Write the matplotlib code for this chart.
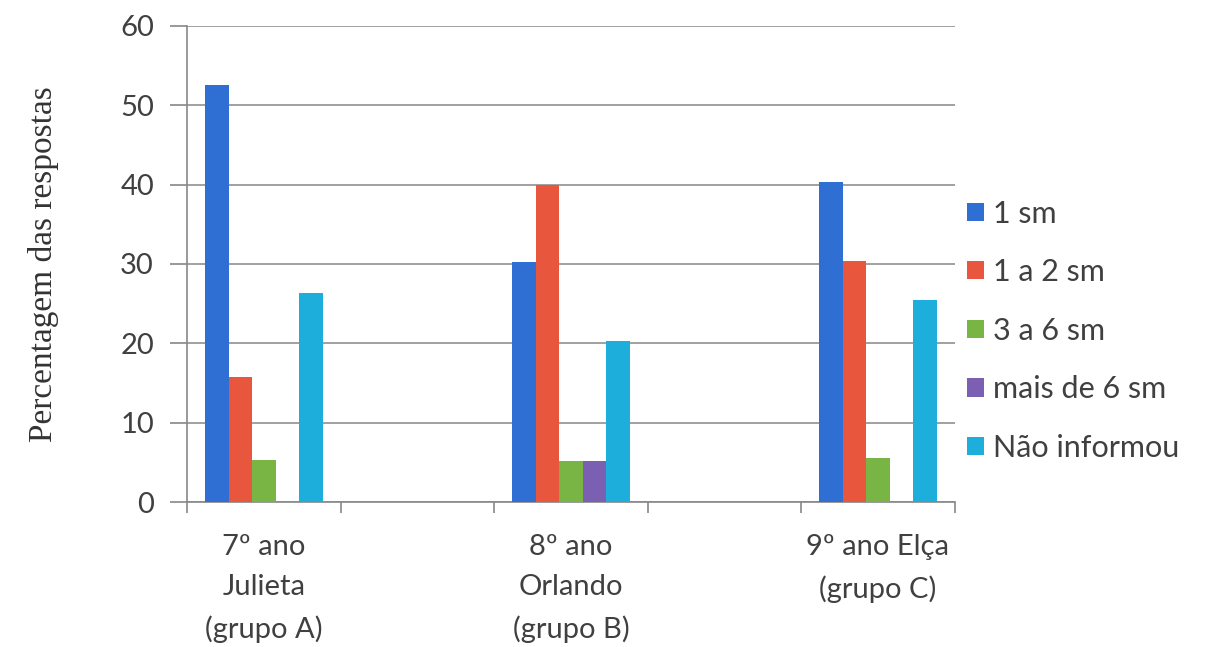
# grouped bars: income bands per class group

import numpy as np
from matplotlib import pyplot as plt

grupos = ['7º ano\nJulieta\n(grupo A)', '8º ano\nOrlando\n(grupo B)', '9º ano Elça\n(grupo C)']
series = ['1 sm', '1 a 2 sm', '3 a 6 sm', 'mais de 6 sm', 'Não informou']
um_sm = [52.6, 30.2, 40.3]
um_a_dois = [15.8, 40.0, 30.4]
tres_a_seis = [5.3, 5.2, 5.6]
mais_de_seis = [0, 5.2, 0]
nao_informou = [26.3, 20.3, 25.4]
valores = [um_sm, um_a_dois, tres_a_seis, mais_de_seis, nao_informou]
cores = ['#2f6fd3', '#e8573d', '#78b545', '#7b5fb3', '#1eaedb']

plt.rcParams['font.family'] = ['Lato', 'DejaVu Sans']
fig = plt.figure(figsize=(12.24, 6.47), dpi=100)
ax = fig.add_axes([0.153, 0.224, 0.627, 0.736])

x = np.arange(len(grupos))
w = 0.077
for i, (nome, v, c) in enumerate(zip(series, valores, cores)):
    ax.bar(x + (i - 2) * w, v, w, color=c, label=nome, zorder=3)

ax.set_ylim(0, 60)
ax.set_yticks(range(0, 61, 10))
ax.set_xlim(-0.25, 2.25)
ax.set_xticks(x)
ax.set_xticklabels(grupos, fontsize=21, color='#404040', linespacing=1.68)
ax.set_xticks([-0.25, 0.25, 0.75, 1.25, 1.75, 2.25], minor=True)
ax.tick_params(axis='x', which='major', length=0, pad=23)
ax.tick_params(axis='x', which='minor', length=8, color='#888888', width=1.2)
ax.tick_params(axis='y', length=12, color='#888888', width=1.2, labelsize=21,
               labelcolor='#404040', pad=12)
ax.grid(axis='y', color='#9a9a9a', linewidth=1.3, zorder=0)
for s in ['top', 'right']:
    ax.spines[s].set_visible(False)
for s in ['left', 'bottom']:
    ax.spines[s].set_color('#888888')
    ax.spines[s].set_linewidth(1.2)

ax.set_ylabel('Percentagem das respostas', family='Liberation Serif', fontsize=24,
              color='#333333', labelpad=44)

leg = ax.legend(loc='center left', bbox_to_anchor=(0.98, 0.36), frameon=False,
                fontsize=22, handlelength=0.55, handleheight=0.55, handletextpad=0.3,
                labelspacing=1.0)
for t in leg.get_texts():
    t.set_color('#404040')

plt.savefig('out.png', dpi=100)
